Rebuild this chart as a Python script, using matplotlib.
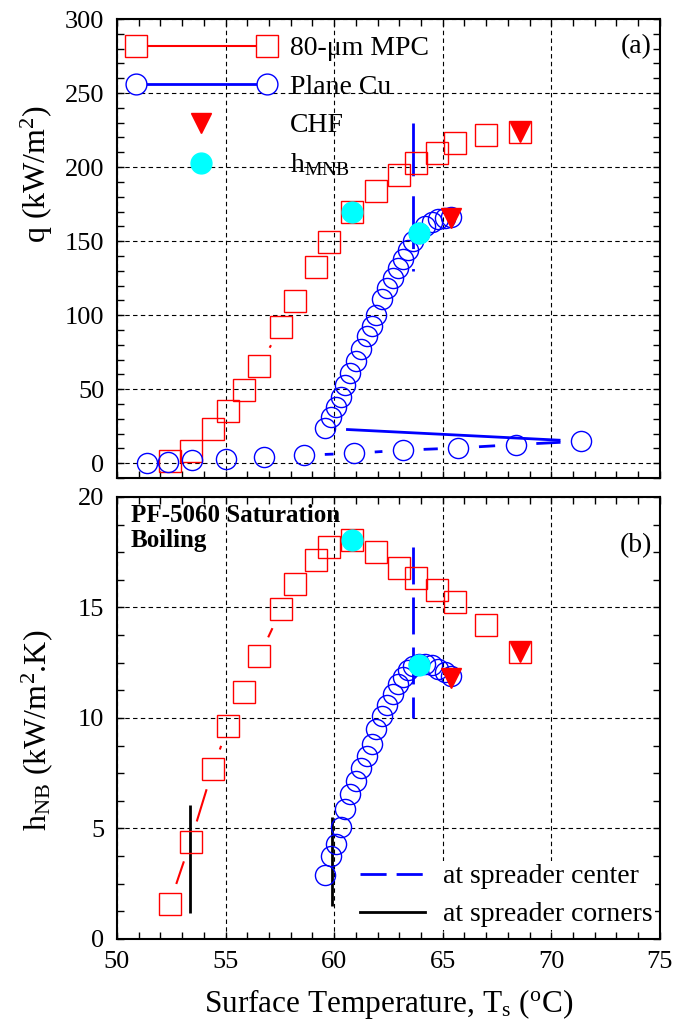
import numpy as np
import matplotlib
matplotlib.use('Agg')
import matplotlib.pyplot as plt
from matplotlib.lines import Line2D
from matplotlib.legend_handler import HandlerLine2D
from matplotlib.ticker import MultipleLocator

plt.rcParams['font.family'] = ['Liberation Serif', 'DejaVu Serif']
plt.rcParams['mathtext.default'] = 'regular'

RED = '#ff0000'
BLUE = '#0000ff'
CYAN = '#00ffff'

# --- data ---
# 80-um MPC (microporous coating)
T_mpc = [52.42, 53.39, 54.41, 55.12, 55.87, 56.55, 57.57, 58.20, 59.16, 59.74,
         60.84, 61.94, 63.00, 63.79, 64.73, 65.56, 66.99, 68.57]
q_mpc = [1.6, 8.3, 23, 35, 49.5, 65.7, 92, 109.5, 132.7, 149.6,
         170, 183.9, 194.5, 202.7, 209.8, 216, 221.6, 223.4]
h_mpc = [1.59, 4.41, 7.68, 9.63, 11.17, 12.79, 14.92, 16.08, 17.15, 17.72,
         18.05, 17.5, 16.8, 16.35, 15.77, 15.23, 14.2, 13.0]

# plane Cu, natural convection part (top panel only)
T_cu_low = [51.38, 52.37, 53.47, 55.03, 56.78, 58.62, 60.92, 63.17, 65.72, 68.36, 71.37]
q_cu_low = [0.4, 0.9, 2.2, 3.1, 4.3, 5.4, 6.7, 8.8, 10.3, 12.6, 14.8]

# plane Cu, nucleate boiling part
T_cu = [59.6, 59.85, 60.1, 60.3, 60.5, 60.75, 61.0, 61.25, 61.5, 61.72, 61.93, 62.2,
        62.45, 62.7, 62.93, 63.15, 63.4, 63.65, 63.9, 64.2, 64.5, 64.8, 65.1, 65.37]
q_cu = [23.5, 31, 38, 45, 53, 61, 69, 77, 86, 93, 100, 111,
        118, 125, 132, 138, 144, 150, 155.6, 160, 163, 164.6, 165.7, 166.4]
h_cu = [2.9, 3.74, 4.29, 5.05, 5.87, 6.55, 7.15, 7.75, 8.28, 8.8, 9.48, 10.08,
        10.6, 11.1, 11.55, 11.85, 12.15, 12.35, 12.45, 12.46, 12.38, 12.22, 12.08, 11.9]

# CHF and max nucleate boiling points
T_chf = [68.57, 65.37]
q_chf = [223.4, 165.7]
h_chf = [13.0, 11.8]
T_mnb = [60.84, 63.9]
q_mnb = [170, 155.6]
h_mnb = [18.05, 12.4]

# temperature spread markers (spreader center / corners)
T_center = 63.65
q_center = (230, 130)
h_center = (17.75, 10.0)
T_corner = [53.37, 59.9]
h_corner_lo = [1.17, 1.48]
h_corner_hi = [6.05, 5.54]


def gapped_line(ax, x, y, gap=22, **kw):
    # line between points that stops short of each marker
    pts = ax.transData.transform(np.column_stack([x, y]))
    inv = ax.transData.inverted()
    for p0, p1 in zip(pts[:-1], pts[1:]):
        d = p1 - p0
        L = np.hypot(*d)
        if L <= 2 * gap:
            continue
        u = d / L
        a, b = inv.transform([p0 + u * gap, p1 - u * gap])
        ax.plot([a[0], b[0]], [a[1], b[1]], **kw)


fig = plt.figure(figsize=(6.89, 10.28), dpi=100)
ax1 = fig.add_axes([0.1698, 0.535, 0.788, 0.4465])
ax2 = fig.add_axes([0.1698, 0.0866, 0.788, 0.43])

for ax in (ax1, ax2):
    ax.set_xlim(50, 75)
    ax.xaxis.set_major_locator(MultipleLocator(5))
    ax.xaxis.set_minor_locator(MultipleLocator(1))
    ax.tick_params(which='both', direction='in', top=True, right=True,
                   length=5, width=1, labelsize=19, pad=9)
    ax.grid(True, which='major', color='black', linestyle=(0, (4, 3)), linewidth=0.8)
    ax.set_axisbelow(True)
    for s in ax.spines.values():
        s.set_linewidth(1.5)

ax1.set_ylim(-10, 300)
ax1.yaxis.set_major_locator(MultipleLocator(50))
ax1.yaxis.set_minor_locator(MultipleLocator(10))
ax1.tick_params(labelbottom=False)

ax2.set_ylim(0, 20)
ax2.yaxis.set_major_locator(MultipleLocator(5))
ax2.yaxis.set_minor_locator(MultipleLocator(1.25))

mk_sq = dict(marker='s', ms=16, mfc='none', mec=RED, mew=1, ls='none')
mk_ci = dict(marker='o', ms=14.5, mfc='none', mec=BLUE, mew=1, ls='none')

# ---- (a) heat flux ----
gapped_line(ax1, T_mpc, q_mpc, color=RED, lw=1.5)
gapped_line(ax1, T_cu_low + T_cu, q_cu_low + q_cu, color=BLUE, lw=2)
ax1.plot(T_mpc, q_mpc, zorder=3, **mk_sq)
ax1.plot(T_cu_low + T_cu, q_cu_low + q_cu, zorder=3, **mk_ci)
ax1.plot(T_chf, q_chf, 'v', color=RED, ms=15, zorder=4)
ax1.plot(T_mnb, q_mnb, 'o', color=CYAN, ms=15, zorder=4)
ax1.plot([T_center, T_center], q_center, color=BLUE, lw=2, dashes=(19, 7.2), zorder=2)

leg_mpc = Line2D([], [], color=RED, lw=1.5, marker='s', ms=16, mfc='white', mec=RED, mew=1)
leg_cu = Line2D([], [], color=BLUE, lw=2, marker='o', ms=15, mfc='white', mec=BLUE, mew=1)
leg_chf = Line2D([], [], ls='none', marker='v', ms=15, color=RED)
leg_mnb = Line2D([], [], ls='none', marker='o', ms=15, color=CYAN)
ax1.legend([leg_mpc, leg_cu, leg_chf, leg_mnb],
           ['80-\u03bcm MPC', 'Plane Cu', 'CHF', 'h$_{MNB}$'],
           loc='upper left', bbox_to_anchor=(0.0197, 0.963), borderaxespad=0, borderpad=0,
           frameon=False, numpoints=2, handlelength=5.3, handletextpad=0.55,
           labelspacing=0.47, fontsize=20,
           handler_map={leg_chf: HandlerLine2D(numpoints=1), leg_mnb: HandlerLine2D(numpoints=1)})

ax1.text(0.985, 0.939, '(a)', transform=ax1.transAxes, ha='right', va='center', fontsize=20)
ax1.set_ylabel('q (kW/m$^2$)', fontsize=23)
ax1.yaxis.set_label_coords(-0.115, 0.662)

# ---- (b) heat transfer coefficient ----
gapped_line(ax2, T_mpc, h_mpc, color=RED, lw=1.5)
ax2.plot(T_mpc, h_mpc, zorder=3, **mk_sq)
ax2.plot(T_cu, h_cu, zorder=3, **mk_ci)
ax2.plot(T_chf, h_chf, 'v', color=RED, ms=15, zorder=4)
ax2.plot(T_mnb, h_mnb, 'o', color=CYAN, ms=15, zorder=4)
ax2.plot([T_center, T_center], h_center, color=BLUE, lw=2, dashes=(13.3, 4.7), zorder=2)
ax2.vlines(T_corner, h_corner_lo, h_corner_hi, color='black', lw=2, zorder=2)

leg_c = Line2D([], [], color=BLUE, lw=2, dashes=(9.4, 3.6))
leg_k = Line2D([], [], color='black', lw=2)
ax2.legend([leg_c, leg_k], ['at spreader center', 'at spreader corners'],
           loc='lower left', bbox_to_anchor=(0.442, 0.02), borderaxespad=0, borderpad=0.1,
           frameon=True, facecolor='white', edgecolor='none', framealpha=1, fancybox=False,
           handlelength=2.34, handletextpad=0.65, labelspacing=0.45, fontsize=20)

ax2.text(0.026, 0.985, 'PF-5060 Saturation\nBoiling', transform=ax2.transAxes,
         ha='left', va='top', fontsize=18, fontweight='bold', linespacing=1.12)
ax2.text(0.985, 0.891, '(b)', transform=ax2.transAxes, ha='right', va='center', fontsize=20)
ax2.set_ylabel('h$_{NB}$ (kW/m$^2$.K)', fontsize=23)
ax2.yaxis.set_label_coords(-0.115, 0.473)
ax2.set_xlabel('Surface Temperature, T$_s$ ($^o$C)', fontsize=22.5, labelpad=10)

fig.savefig('out.png', dpi=100)
